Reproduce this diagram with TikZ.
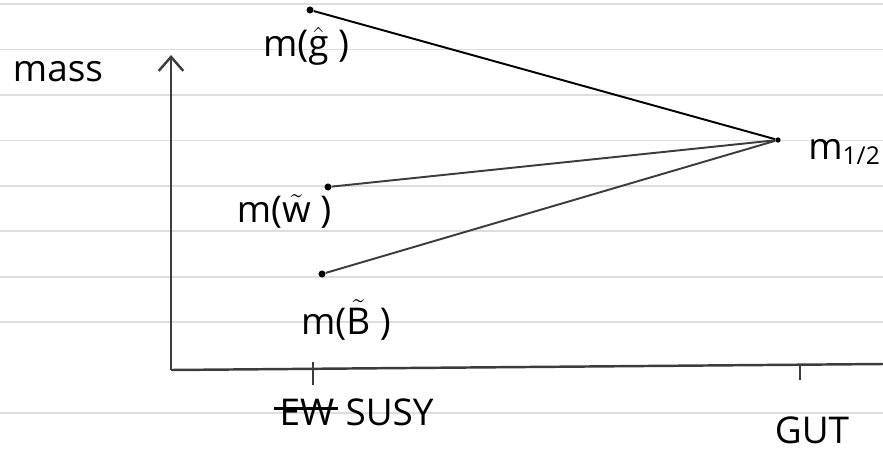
\documentclass[tikz,border=0pt]{standalone}
\usepackage{amsmath}
\usepackage{fontspec}
\setmainfont{Open Sans}
\usepackage{tikz}
\usetikzlibrary{arrows.meta,positioning}
\definecolor{pencil}{RGB}{60, 60, 60}
\definecolor{ruled}{RGB}{222, 222, 222}

\begin{document}
\begin{tikzpicture}[x=0.02cm, y=-0.02cm]
    \tikzstyle{hand} = [font=\fontsize{21}{24}\selectfont, inner sep=0pt]
    \tikzstyle{dot} = [circle, fill=black, inner sep=0pt, minimum size=4pt]
    \tikzstyle{axisline} = [line width=1.4pt, pencil]
    \tikzstyle{massline} = [line width=1.1pt, pencil]

    \useasboundingbox (0,0) rectangle (883,450);

    % ruled paper
    \foreach \yy in {4, 49.5, 95, 140.5, 186, 231, 277, 322, 413}
        \draw[ruled, line width=0.6pt] (0,\yy) -- (883,\yy);

    % axes
    \coordinate (origin) at (171,370);
    \coordinate (ytop) at (171,55);
    \coordinate (xend) at (883,364);
    \draw[axisline, ->, >={Straight Barb[length=8pt, width=14pt]}] (origin) -- (ytop);
    \draw[axisline] (origin) -- (xend);

    % ticks
    \coordinate (tickew) at (313,362);
    \coordinate (tickewb) at (313,385);
    \coordinate (tickgut) at (800,365);
    \coordinate (tickgutb) at (800,380);
    \draw[axisline] (tickew) -- (tickewb);
    \draw[axisline] (tickgut) -- (tickgutb);

    % mass points
    \node[dot] (gl) at (310,10) {};
    \node[dot] (wi) at (328,187) {};
    \node[dot] (bi) at (322,274) {};
    \node[dot, minimum size=3pt] (unif) at (778,140) {};

    \draw[massline, black] (gl) -- (unif);
    \draw[massline] (wi) -- (unif);
    \draw[massline] (bi) -- (unif);

    % labels
    \node[hand] (masslbl) at (58,72) {mass};
    \node[hand] (gllbl) at (306,46) {m($\hat{\text{g}}$ )};
    \node[hand] (wilbl) at (284,211) {m($\tilde{\text{w}}$ )};
    \node[hand] (bilbl) at (346,320) {m($\tilde{\text{B}}$ )};
    \node[hand, anchor=west] (unlbl) at (808,152) {m\textsubscript{\fontsize{14}{16}\selectfont 1/2}};
    \node[hand] (ewlbl) at (307,412) {EW};
    \node[hand, right=6pt of ewlbl] (susylbl) {SUSY};
    \node[hand] (gutlbl) at (812,430) {GUT};

    % struck out
    \draw[line width=1.3pt] ([xshift=-3pt, yshift=2pt]ewlbl.west) -- ([xshift=2pt, yshift=2pt]ewlbl.east);
\end{tikzpicture}
\end{document}
